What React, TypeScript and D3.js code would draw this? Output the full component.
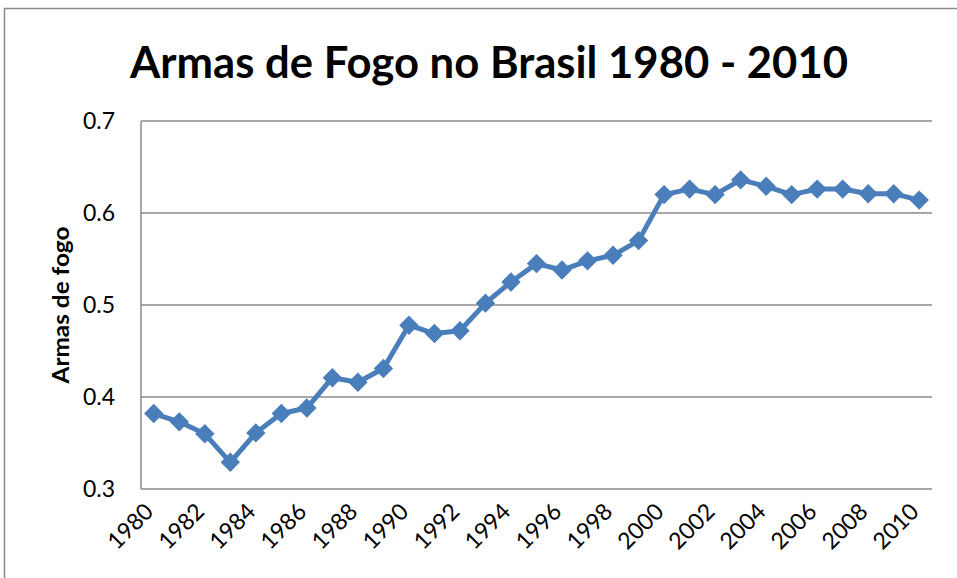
import * as React from "react";
import * as d3 from "d3";

// data
const years = [
  "1980", "1981", "1982", "1983", "1984", "1985", "1986", "1987", "1988", "1989",
  "1990", "1991", "1992", "1993", "1994", "1995", "1996", "1997", "1998", "1999",
  "2000", "2001", "2002", "2003", "2004", "2005", "2006", "2007", "2008", "2009", "2010",
];
const armas = [
  0.382, 0.373, 0.360, 0.329, 0.361, 0.382, 0.388, 0.421, 0.416, 0.431,
  0.478, 0.469, 0.472, 0.502, 0.525, 0.545, 0.538, 0.548, 0.554, 0.570,
  0.620, 0.626, 0.620, 0.636, 0.629, 0.620, 0.626, 0.626, 0.621, 0.621, 0.614,
];
const yTicks = [0.3, 0.4, 0.5, 0.6, 0.7];
const xTickLabels = ["1980", "1982", "1984", "1986", "1988", "1990", "1992", "1994", "1996", "1998",
  "2000", "2002", "2004", "2006", "2008", "2010"];

const W = 957;
const H = 578;
const FONT = "Lato, 'Open Sans', sans-serif";

function drawChart(svgEl: SVGSVGElement) {
  const svg = d3.select(svgEl);
  svg.selectAll("*").remove();

  const left = 141, right = 932, top = 121, bottom = 489;

  const x = d3.scalePoint<string>().domain(years).range([left, right]).padding(0.5);
  const y = d3.scaleLinear().domain([0.3, 0.7]).range([bottom, top]);

  // chart border
  svg.append("rect")
    .attr("x", 4.5).attr("y", 8.5)
    .attr("width", W + 20).attr("height", H + 20)
    .attr("fill", "#fff")
    .attr("stroke", "#8a8a8a")
    .attr("stroke-width", 1.5);

  // title
  svg.append("text")
    .attr("x", 489).attr("y", 78)
    .attr("text-anchor", "middle")
    .attr("font-family", FONT)
    .attr("font-weight", "bold")
    .attr("font-size", 44)
    .attr("textLength", 718)
    .attr("lengthAdjust", "spacingAndGlyphs")
    .text("Armas de Fogo no Brasil 1980 - 2010");

  // gridlines
  svg.append("g")
    .selectAll("line")
    .data(yTicks)
    .join("line")
    .attr("x1", left).attr("x2", right)
    .attr("y1", (d) => y(d)).attr("y2", (d) => y(d))
    .attr("stroke", "#8a8a8a")
    .attr("stroke-width", 1.5);

  // y axis line
  svg.append("line")
    .attr("x1", left).attr("x2", left)
    .attr("y1", top).attr("y2", bottom)
    .attr("stroke", "#8a8a8a")
    .attr("stroke-width", 1.5);

  // y tick labels
  svg.append("g")
    .selectAll("text")
    .data(yTicks)
    .join("text")
    .attr("x", 115)
    .attr("y", (d) => y(d))
    .attr("dy", "0.36em")
    .attr("text-anchor", "end")
    .attr("font-family", FONT)
    .attr("font-size", 23)
    .attr("fill", "#000")
    .text((d) => d3.format(".1f")(d));

  // x tick labels
  svg.append("g")
    .selectAll("text")
    .data(xTickLabels)
    .join("text")
    .attr("text-anchor", "end")
    .attr("transform", (d) => `translate(${(x(d) as number) + 1},${513}) rotate(-45)`)
    .attr("font-family", FONT)
    .attr("font-size", 23)
    .attr("fill", "#000")
    .text((d) => d);

  // y axis title
  svg.append("text")
    .attr("transform", "translate(69,305) rotate(-90)")
    .attr("text-anchor", "middle")
    .attr("font-family", FONT)
    .attr("font-weight", "bold")
    .attr("font-size", 23)
    .attr("textLength", 157)
    .attr("lengthAdjust", "spacingAndGlyphs")
    .text("Armas de fogo");

  const pts = years.map((yr, i) => [x(yr) as number, y(armas[i])] as [number, number]);

  // line
  svg.append("path")
    .datum(pts)
    .attr("d", d3.line())
    .attr("fill", "none")
    .attr("stroke", "#4a7ebb")
    .attr("stroke-width", 5)
    .attr("stroke-linejoin", "round");

  // diamond markers
  const diamond = d3.symbol().type(d3.symbolDiamond2).size(240);
  svg.append("g")
    .selectAll("path")
    .data(pts)
    .join("path")
    .attr("transform", (d) => `translate(${d[0]},${d[1]})`)
    .attr("d", diamond)
    .attr("fill", "#4a7ebb");
}

const App = () => {
  const svgRef = React.useRef<SVGSVGElement>(null);
  React.useEffect(() => {
    if (svgRef.current) drawChart(svgRef.current);
  }, []);

  return (
    <div id="chart">
      <svg
        ref={svgRef}
        width={W}
        height={H}
        style={{ position: "absolute", left: 0, top: 0, background: "#fff" }}
      ></svg>
    </div>
  );
};

export default App;
